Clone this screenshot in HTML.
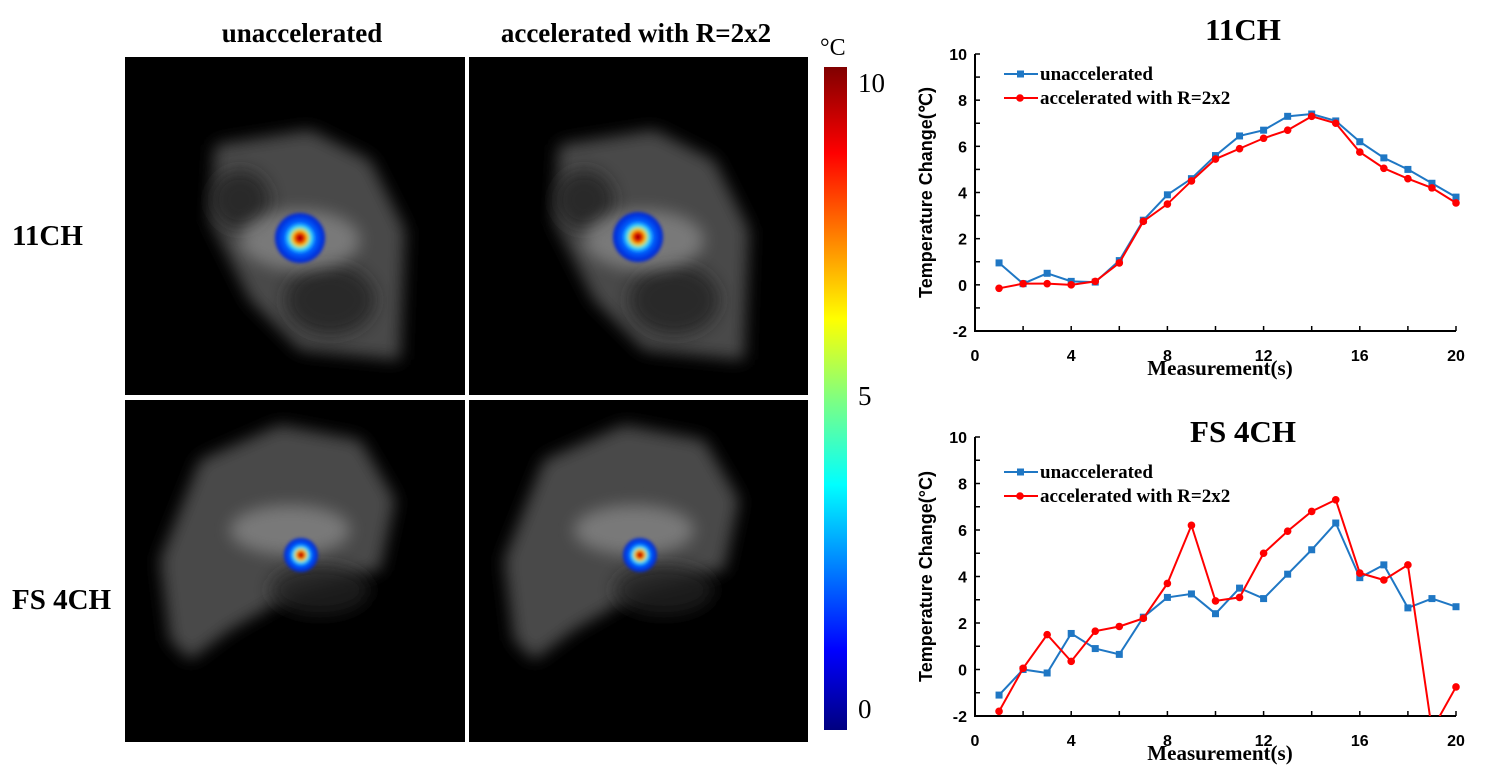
<!DOCTYPE html>
<html><head><meta charset="utf-8"><style>
body{margin:0;width:1485px;height:777px;background:#fff;overflow:hidden;font-family:"Liberation Serif",serif}
svg text{font-family:"Liberation Serif",serif;font-weight:bold}
</style></head><body>
<svg width="1485" height="777">
<defs>
<filter id="bl" x="-30%" y="-30%" width="160%" height="160%"><feGaussianBlur stdDeviation="8"/></filter>
<filter id="bl2"><feGaussianBlur stdDeviation="1.5"/></filter>
<radialGradient id="hot"><stop offset="0" stop-color="#800000"/><stop offset="0.15" stop-color="#e00000"/><stop offset="0.3" stop-color="#ffd000"/><stop offset="0.45" stop-color="#30e0ff"/><stop offset="0.62" stop-color="#0060ff"/><stop offset="1" stop-color="#0020d0"/></radialGradient>
<linearGradient id="jet" x1="0" y1="1" x2="0" y2="0"><stop offset="0" stop-color="#000080"/><stop offset="0.12" stop-color="#0000ff"/><stop offset="0.37" stop-color="#00ffff"/><stop offset="0.5" stop-color="#80ff80"/><stop offset="0.62" stop-color="#ffff00"/><stop offset="0.87" stop-color="#ff0000"/><stop offset="1" stop-color="#800000"/></linearGradient>
</defs>
<text x="302" y="42" font-size="27" text-anchor="middle">unaccelerated</text>
<text x="636" y="42" font-size="27" text-anchor="middle">accelerated with R=2x2</text>
<text x="12" y="245" font-size="29">11CH</text>
<text x="12" y="609" font-size="29">FS 4CH</text>
<g>
<rect x="125" y="57" width="340" height="338" fill="#000"/>
<rect x="469" y="57" width="339" height="338" fill="#000"/>
<rect x="125" y="400" width="340" height="342" fill="#000"/>
<rect x="469" y="400" width="339" height="342" fill="#000"/>
<g filter="url(#bl)" fill="#4a4a4a">
<path d="M215 145 L310 130 L370 160 L405 230 L400 360 L300 350 L250 300 L210 220Z"/>
<path d="M559 145 L654 130 L714 160 L749 230 L744 360 L644 350 L594 300 L554 220Z"/>
<path d="M160 560 L200 460 L280 425 L360 440 L395 500 L380 570 L300 590 L230 630 L190 660 L170 640Z"/>
<path d="M504 560 L544 460 L624 425 L704 440 L739 500 L724 570 L644 590 L574 630 L534 660 L514 640Z"/>
</g>
<g filter="url(#bl)" fill="#222" opacity="0.8">
<ellipse cx="330" cy="300" rx="45" ry="35"/><ellipse cx="674" cy="300" rx="45" ry="35"/>
<ellipse cx="240" cy="200" rx="30" ry="30"/><ellipse cx="584" cy="200" rx="30" ry="30"/>
<ellipse cx="320" cy="590" rx="50" ry="25"/><ellipse cx="664" cy="590" rx="50" ry="25"/>
</g>
<g filter="url(#bl)" fill="#9a9a9a" opacity="0.6">
<ellipse cx="300" cy="240" rx="60" ry="30"/><ellipse cx="644" cy="240" rx="60" ry="30"/>
<ellipse cx="290" cy="530" rx="60" ry="25"/><ellipse cx="634" cy="530" rx="60" ry="25"/>
</g>
<circle cx="300" cy="238" r="25" fill="url(#hot)" filter="url(#bl2)"/>
<circle cx="638" cy="237" r="25" fill="url(#hot)" filter="url(#bl2)"/>
<circle cx="301" cy="555" r="17" fill="url(#hot)" filter="url(#bl2)"/>
<circle cx="640" cy="555" r="17" fill="url(#hot)" filter="url(#bl2)"/>
</g>
<g>
<rect x="824" y="67" width="23" height="663" fill="url(#jet)"/>
<text x="820" y="55" font-size="24" style="font-weight:normal">°C</text>
<text x="858" y="92" font-size="27" style="font-weight:normal">10</text>
<text x="858" y="405" font-size="27" style="font-weight:normal">5</text>
<text x="858" y="718" font-size="27" style="font-weight:normal">0</text>
</g>
<g id="c1"></g>
<g id="c2"></g>
</svg>
<script>
const xs = [1,2,3,4,5,6,7,8,9,10,11,12,13,14,15,16,17,18,19,20];
const top_unacc = [0.95,0.05,0.5,0.15,0.12,1.05,2.8,3.9,4.6,5.6,6.45,6.7,7.3,7.4,7.1,6.2,5.5,5.0,4.4,3.8];
const top_acc = [-0.15,0.05,0.05,0.0,0.15,0.95,2.75,3.5,4.5,5.45,5.9,6.35,6.7,7.3,7.0,5.75,5.05,4.6,4.2,3.55];
const bot_unacc = [-1.1,0.0,-0.15,1.55,0.9,0.65,2.25,3.1,3.25,2.4,3.5,3.05,4.1,5.15,6.3,3.95,4.5,2.65,3.05,2.7];
const bot_acc = [-1.8,0.05,1.5,0.35,1.65,1.85,2.2,3.7,6.2,2.95,3.1,5.0,5.95,6.8,7.3,4.15,3.85,4.5,-2.6,-0.75];
const xTicks = [0,4,8,12,16,20];
const yTicks = [-2,0,2,4,6,8,10];
const NS='http://www.w3.org/2000/svg';
function mk(g,tag,at,txt){const e=document.createElementNS(NS,tag);for(const k in at)e.setAttribute(k,at[k]);if(txt!==undefined)e.textContent=txt;g.appendChild(e);return e;}
function chart(gid,y10,ym2,title,titleY,legY,unacc,acc,ylab){
  const g=document.getElementById(gid);
  const x0=975,x1=1456;
  const X=v=>x0+(v-0)*(x1-x0)/20;
  const Y=v=>ym2+(v+2)*(y10-ym2)/12;
  const t=mk(g,'text',{x:1243,y:titleY,'font-size':31,'text-anchor':'middle'},title);
  
  
  const clip='cl'+gid;
  const cp=mk(g,'clipPath',{id:clip});mk(cp,'rect',{x:x0,y:y10-5,width:x1-x0+8,height:ym2-y10+5});
  const ax=mk(g,'path',{d:`M${x0} ${y10}V${ym2}H${x1}`,stroke:'#000','stroke-width':2,fill:'none'});
  
  
  for(let v=-2;v<=10;v++){mk(g,'line',{x1:x0,x2:x0+5,y1:Y(v),y2:Y(v),stroke:'#000','stroke-width':1.5});}
  for(let v=0;v<=20;v+=2){mk(g,'line',{x1:X(v),x2:X(v),y1:ym2,y2:ym2-5,stroke:'#000','stroke-width':1.5});}
  yTicks.forEach(v=>{const e=mk(g,'text',{x:x0-8,y:Y(v)+6,'font-size':16,'text-anchor':'end',style:'font-family:"Liberation Sans",sans-serif'},String(v));
    
    });
  xTicks.forEach(v=>{const e=mk(g,'text',{x:X(v),y:ym2+30,'font-size':16,'text-anchor':'middle',style:'font-family:"Liberation Sans",sans-serif'},String(v));
    
    });
  const xl=mk(g,'text',{x:1220,y:ym2+44,'font-size':21,'text-anchor':'middle'},'Measurement(s)');
  
  
  const cy=(y10+ym2)/2;
  const yl=mk(g,'text',{x:0,y:0,'font-size':18,'text-anchor':'middle',transform:`translate(932 ${cy}) rotate(-90)`,style:'font-family:"Liberation Sans",sans-serif'},ylab);
  
  
  const series=[[unacc,'#1f77c4','sq','unaccelerated'],[acc,'#ff0000','ci','accelerated with R=2x2']];
  series.forEach(([d,c,m,name],i)=>{
    const sg=mk(g,'g',{'clip-path':`url(#${clip})`});
    
    
    mk(sg,'polyline',{points:xs.map((x,j)=>X(x)+','+Y(d[j])).join(' '),fill:'none',stroke:c,'stroke-width':2});
    xs.forEach((x,j)=>{let p;
      if(m==='sq')p=mk(sg,'rect',{x:X(x)-3.5,y:Y(d[j])-3.5,width:7,height:7,fill:c});
      else p=mk(sg,'circle',{cx:X(x),cy:Y(d[j]),r:3.8,fill:c});
      
      });
    const ly=legY+i*24;
    const lg=mk(g,'g',{});
    
    
    mk(lg,'line',{x1:1004,x2:1038,y1:ly,y2:ly,stroke:c,'stroke-width':2});
    if(m==='sq')mk(lg,'rect',{x:1017,y:ly-3.5,width:7,height:7,fill:c});else mk(lg,'circle',{cx:1020,cy:ly,r:3.8,fill:c});
    mk(lg,'text',{x:1040,y:ly+6,'font-size':19},name);
  });
}
chart('c1',54,331,'11CH',40,74,top_unacc,top_acc,'Temperature Change(℃)');
chart('c2',437,716,'FS 4CH',442,472,bot_unacc,bot_acc,'Temperature Change(°C)');
</script>
</body></html>
